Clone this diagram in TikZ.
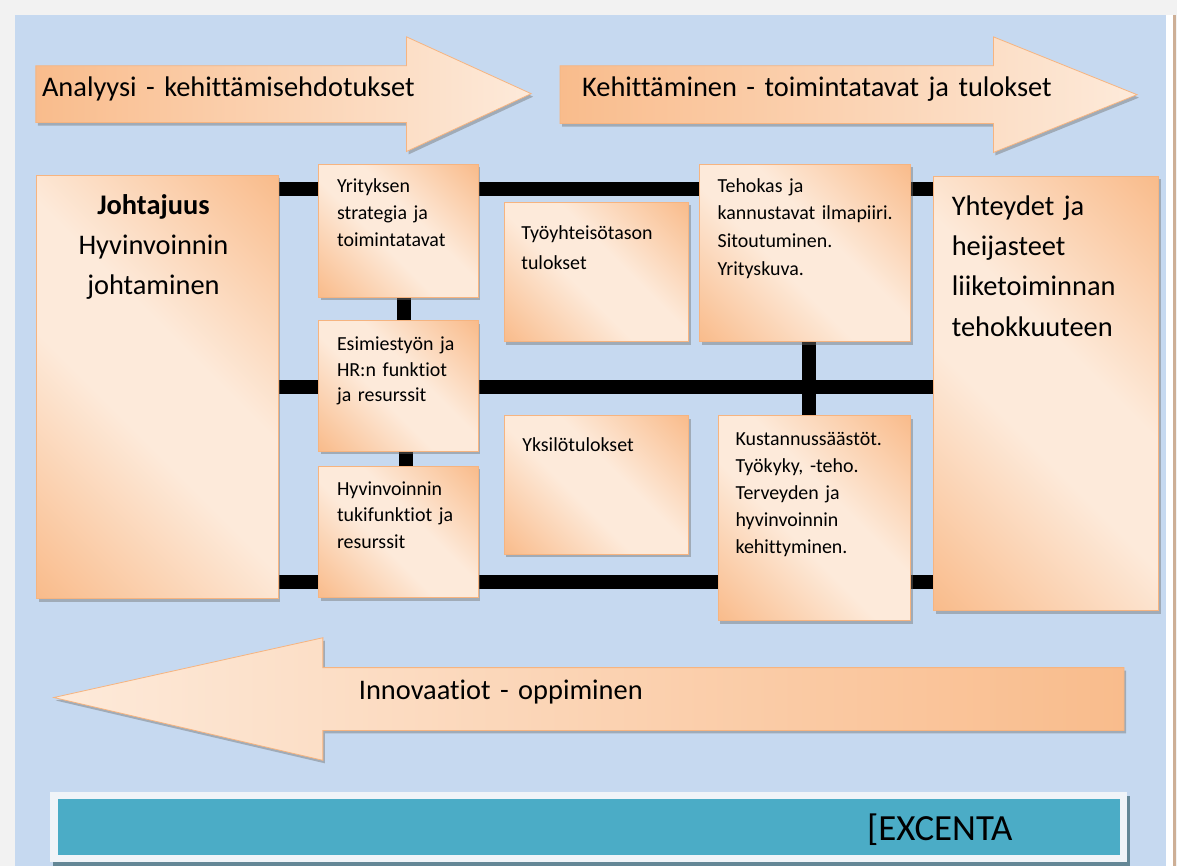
\documentclass[tikz,border=0pt]{standalone}
\usepackage{fontspec}
\setmainfont{Carlito}[Ligatures=NoCommon]
\usepackage{tikz}
\usetikzlibrary{calc,positioning,shadows,backgrounds}

\definecolor{paper}{RGB}{242,242,242}
\definecolor{skyblue}{RGB}{198,217,240}
\definecolor{peachdark}{RGB}{249,188,140}
\definecolor{peachlight}{RGB}{253,234,218}
\definecolor{peachedge}{RGB}{246,180,128}
\definecolor{excteal}{RGB}{75,172,198}
\definecolor{exframe}{RGB}{240,244,248}
\definecolor{exshadow}{RGB}{100,135,150}
\definecolor{brownline}{RGB}{205,175,150}

\pgfdeclareverticalshading{peachdiag}{100bp}{color(0bp)=(peachdark);
  color(15bp)=(peachdark); color(43bp)=(peachlight); color(57bp)=(peachlight);
  color(85bp)=(peachdark); color(100bp)=(peachdark)}

\pgfdeclarelayer{canvas}
\pgfsetlayers{canvas,background,main}

\begin{document}
\begin{tikzpicture}[x=1pt, y=-1pt,
    box/.style={draw=peachedge, line width=0.8pt, anchor=north west,
      inner sep=0pt, outer sep=0pt, shading=peachdiag, shading angle=-45,
      drop shadow={shadow xshift=2pt, shadow yshift=-3pt, fill=black!55, opacity=.45}},
    bigarrow/.style={draw=peachedge, line width=0.8pt,
      drop shadow={shadow xshift=2pt, shadow yshift=-3pt, fill=black!55, opacity=.45}},
    bar/.style={line width=14pt, black},
    small/.style={anchor=base west, inner sep=0pt, align=left, text width=230pt,
      font=\fontsize{20}{27}\selectfont},
    large/.style={anchor=base west, inner sep=0pt, align=left, text width=230pt,
      font=\fontsize{28.5}{40.5}\selectfont}]

    %% Background
    \begin{pgfonlayer}{canvas}
    \fill[paper] (0,0) rectangle (1181,869);
    \fill[skyblue] (15,15) rectangle (1170,869);
    \fill[white] (1170,15) rectangle (1177,869);
    \fill[brownline] (1177,15) rectangle (1180,869);
    \end{pgfonlayer}

    % Top arrows
    \path[bigarrow, left color=peachdark, right color=peachlight]
    (36,66) -- (408,66) -- (408,37) -- (533,94) -- (408,152) -- (408,123)
    -- (36,123) -- cycle;
    \node[large, text width=480pt] (analyysi) at (42,97)
    {Analyysi - kehittämisehdotukset};

    \path[bigarrow, left color=peachdark, right color=peachlight]
    (562,66) -- (997,66) -- (997,37) -- (1141,95) -- (997,153) -- (997,124)
    -- (562,124) -- cycle;
    \node[large, text width=520pt] (kehitys) at (584,97)
    {Kehittäminen - toimintatavat ja tulokset};

    % Boxes
    \node[box, minimum width=242, minimum height=425] (johto) at (37,176) {};
    \node[box, minimum width=160, minimum height=133] (yritys) at (320,165) {};
    \node[box, minimum width=160, minimum height=131] (esimies) at (320,322) {};
    \node[box, minimum width=160, minimum height=132] (hyvin) at (320,468) {};
    \node[box, minimum width=185, minimum height=140] (tyoyht) at (506,203) {};
    \node[box, minimum width=185, minimum height=139] (yksilo) at (506,417) {};
    \node[box, minimum width=212, minimum height=178] (tehokas) at (702,165) {};
    \node[box, minimum width=193, minimum height=206] (kustannus) at (721,417) {};
    \node[box, minimum width=226, minimum height=436] (yhteys) at (937,177) {};

    % Box texts
    \node[large, anchor=base, align=center, text width=220pt] (johto-t) at (154,215)
    {\textbf{Johtajuus}\\Hyvinvoinnin\\johtaminen};
    \node[small] (yritys-t) at (338,193) {Yrityksen\\strategia ja\\toimintatavat};
    \node[small, font=\fontsize{20}{25.5}\selectfont] (esimies-t) at (338,352)
    {Esimiestyön ja\\HR:n funktiot\\ja resurssit};
    \node[small, font=\fontsize{20}{26.5}\selectfont] (hyvin-t) at (338,497)
    {Hyvinvoinnin\\tukifunktiot ja\\resurssit};
    \node[small, font=\fontsize{20}{30}\selectfont] (tyoyht-t) at (523,240)
    {Työyhteisötason\\tulokset};
    \node[small] (yksilo-t) at (524,453) {Yksilötulokset};
    \node[small, font=\fontsize{20}{27.7}\selectfont] (tehokas-t) at (720,193)
    {Tehokas ja\\kannustavat ilmapiiri.\\Sitoutuminen.\\Yrityskuva.};
    \node[small] (kustannus-t) at (738,447)
    {Kustannussäästöt.\\Työkyky, -teho.\\Terveyden ja\\hyvinvoinnin\\kehittyminen.};
    \node[large] (yhteys-t) at (955,216)
    {Yhteydet ja\\heijasteet\\liiketoiminnan\\tehokkuuteen};

    % Bars
    \begin{pgfonlayer}{background}
    \draw[bar] ([yshift=-14pt]johto.north east) coordinate (b1) -- (b1 -| yhteys.west);
    \draw[bar] (johto.east) -- (johto.east -| yhteys.west);
    \draw[bar] ([yshift=17pt]johto.south east) coordinate (b3) -- (b3 -| yhteys.west);
    \draw[bar] ([xshift=5pt]yritys.south) -- ([xshift=5pt]esimies.north);
    \draw[bar] ([xshift=7pt]esimies.south) -- ([xshift=7pt]hyvin.north);
    \draw[bar] ([xshift=4pt]tehokas.south) coordinate (v3) -- (v3 |- kustannus.north);
    \end{pgfonlayer}

    % Bottom arrow
    \path[bigarrow, left color=peachlight, right color=peachdark]
    (1128,670) -- (324,670) -- (324,640) -- (54,700) -- (324,763) -- (324,733)
    -- (1128,733) -- cycle;
    \node[large, text width=400pt] (innovaatiot) at (360,702) {Innovaatiot - oppiminen};

    % Footer
    \node[fill=exframe, minimum width=1081, minimum height=70, anchor=north west,
      inner sep=0pt, drop shadow={shadow xshift=3pt, shadow yshift=-4pt,
      fill=exshadow, opacity=1}] (exframe) at (50,795) {};
    \node[fill=excteal, minimum width=1066, minimum height=56, anchor=north west,
      inner sep=0pt] (exbar) at (58,802) {};
    \node[anchor=base west, inner sep=0pt, font=\fontsize{37}{40}\selectfont]
    (excenta) at (870,843) {[EXCENTA};

\end{tikzpicture}
\end{document}
